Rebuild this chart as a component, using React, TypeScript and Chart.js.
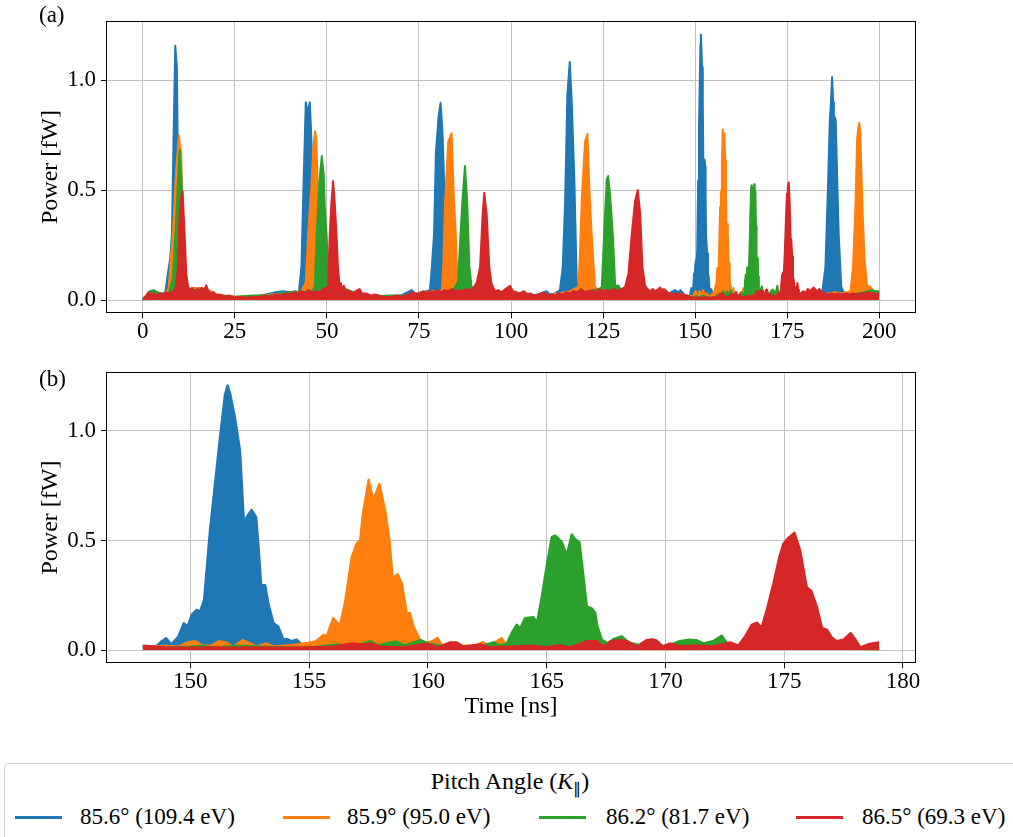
import React, { useEffect, useRef } from "react";
import { Chart, registerables } from "chart.js";

Chart.register(...registerables);

type Pt = [number, number];

const seriesLabels = ["85.6° (109.4 eV)", "85.9° (95.0 eV)", "86.2° (81.7 eV)", "86.5° (69.3 eV)"];
const seriesColors = ["#1f77b4", "#ff7f0e", "#2ca02c", "#d62728"];
const topTicksX = [0, 25, 50, 75, 100, 125, 150, 175, 200];
const bottomTicksX = [150, 155, 160, 165, 170, 175, 180];
const ticksY = [0, 0.5, 1.0];

// ---- Blue: 85.6° ----
const blueEarly: Pt[] = [
  [0, 0.005], [1, 0.02], [2, 0.04], [3, 0.035], [4, 0.03], [5, 0.03], [6.1, 0.03], [6.8, 0.12], [7.45, 0.19],
  [7.9, 0.3], [8.36, 0.75], [8.81, 1.157], [9.26, 1.056], [9.53, 0.6], [9.9, 0.3], [10.4, 0.12], [11, 0.06],
  [12, 0.04], [14, 0.045], [16, 0.05], [18, 0.04], [20, 0.025], [24, 0.015], [28, 0.012], [32, 0.02], [36, 0.035],
  [38, 0.04], [40, 0.035], [41.5, 0.04], [42.35, 0.03], [43.08, 0.15], [43.53, 0.45], [44.26, 0.9], [44.8, 0.85],
  [45.35, 0.9], [45.8, 0.73], [46.3, 0.4], [46.8, 0.15], [47.5, 0.05], [49, 0.03], [52, 0.03], [56, 0.03],
  [60, 0.02], [65, 0.015], [70, 0.02], [73, 0.045], [74, 0.03], [76, 0.035], [78, 0.045], [78.5, 0.15],
  [79.1, 0.3], [79.6, 0.67], [80.3, 0.83], [80.87, 0.897], [81.4, 0.76], [82.0, 0.45], [82.6, 0.2], [83.3, 0.06],
  [85, 0.03], [90, 0.025], [95, 0.02], [100, 0.02], [105, 0.015], [108, 0.03], [109.7, 0.04], [110.5, 0.025],
  [112, 0.03], [113.3, 0.045], [114.05, 0.15], [114.7, 0.45], [115.3, 0.93], [115.96, 1.083], [116.5, 0.9],
  [117.2, 0.55], [117.86, 0.08], [118.5, 0.04], [121, 0.03], [125, 0.03], [130, 0.02], [135, 0.02], [140, 0.02],
  [143, 0.03], [144.5, 0.045], [145.5, 0.035], [146, 0.045], [147, 0.025],
];
const blueZoom: Pt[] = [
  [148.0, 0.016], [148.3, 0.015], [148.6, 0.02], [148.8, 0.04], [148.98, 0.054], [149.2, 0.025], [149.5, 0.062],
  [149.73, 0.122], [149.88, 0.107], [150.06, 0.16], [150.27, 0.183], [150.41, 0.175], [150.58, 0.228],
  [150.83, 0.545], [151.04, 0.757], [151.25, 0.968], [151.46, 1.165], [151.57, 1.207], [151.67, 1.172],
  [151.88, 1.059], [152.09, 0.908], [152.27, 0.548], [152.37, 0.606], [152.58, 0.639], [152.77, 0.606],
  [152.86, 0.485], [152.98, 0.296], [153.15, 0.296], [153.28, 0.213], [153.5, 0.122], [153.7, 0.107],
  [153.92, 0.047], [154.08, 0.05], [154.27, 0.04], [154.48, 0.047], [154.69, 0.025], [155.0, 0.012],
  [157, 0.01], [158.2, 0.02], [158.4, 0.008], [160, 0.008], [165, 0.008], [170, 0.008], [175.3, 0.01],
  [175.45, 0.025], [175.6, 0.008], [179, 0.008],
];
const blueLate: Pt[] = [
  [179.5, 0.01], [182, 0.02], [184.5, 0.03], [185.4, 0.15], [186.1, 0.52], [186.6, 0.82], [186.9, 0.9],
  [187.2, 1.014], [187.5, 0.9], [187.7, 0.84], [188.2, 0.82], [188.6, 0.55], [189.0, 0.3], [189.7, 0.06],
  [190.5, 0.03], [193, 0.02], [196, 0.02], [200, 0.02],
];

// ---- Orange: 85.9° ----
const orangeEarly: Pt[] = [
  [0, 0.005], [1, 0.02], [2, 0.035], [3, 0.03], [4, 0.03], [5, 0.025], [6, 0.03], [7, 0.05], [7.45, 0.15],
  [8.17, 0.3], [9.08, 0.6], [9.8, 0.749], [10.1, 0.7], [10.44, 0.677], [10.71, 0.45], [11.1, 0.2], [11.6, 0.07],
  [12.5, 0.05], [14, 0.055], [15.5, 0.055], [17, 0.05], [18.5, 0.04], [20, 0.025], [25, 0.015], [30, 0.015],
  [35, 0.025], [38, 0.03], [41, 0.035], [43, 0.04], [44.26, 0.08], [44.9, 0.3], [45.8, 0.52], [46.25, 0.68],
  [46.8, 0.768], [47.16, 0.72], [47.6, 0.45], [48.1, 0.2], [48.6, 0.06], [50, 0.04], [53, 0.03], [57, 0.03],
  [62, 0.015], [67, 0.015], [72, 0.02], [76, 0.035], [79, 0.04], [81.2, 0.04], [81.6, 0.15], [82.05, 0.43],
  [82.95, 0.72], [83.86, 0.758], [84.5, 0.45], [85.0, 0.3], [85.5, 0.075], [86.5, 0.04], [90, 0.03], [95, 0.02],
  [100, 0.02], [105, 0.015], [110, 0.02], [113, 0.03], [116, 0.04], [118.3, 0.06], [118.7, 0.2], [119.2, 0.45],
  [120.1, 0.72], [120.76, 0.755], [121.3, 0.5], [121.9, 0.3], [122.8, 0.06], [124, 0.04], [128, 0.03],
  [132, 0.025], [137, 0.02], [142, 0.02], [146, 0.015], [147.5, 0.015],
];
const orangeZoom: Pt[] = [
  [148.0, 0.012], [149.0, 0.02], [149.5, 0.015], [149.9, 0.035], [150.2, 0.04], [150.5, 0.02], [150.9, 0.02],
  [151.2, 0.04], [151.5, 0.035], [151.8, 0.015], [152.2, 0.045], [152.5, 0.03], [152.8, 0.015], [153.2, 0.03],
  [153.5, 0.015], [154.0, 0.02], [154.5, 0.025], [154.98, 0.032], [155.3, 0.04], [155.6, 0.069], [155.74, 0.062],
  [156.02, 0.145], [156.3, 0.11], [156.51, 0.213], [156.8, 0.424], [157.0, 0.485], [157.15, 0.5], [157.28, 0.628],
  [157.51, 0.776], [157.7, 0.681], [157.96, 0.757], [158.2, 0.636], [158.38, 0.5], [158.52, 0.326],
  [158.72, 0.346], [158.9, 0.304], [159.11, 0.168], [159.25, 0.168], [159.39, 0.107], [159.6, 0.062],
  [159.74, 0.027], [160.0, 0.035], [160.2, 0.04], [160.4, 0.055], [160.6, 0.02], [161.0, 0.015], [161.5, 0.02],
  [162.0, 0.02], [162.3, 0.035], [162.6, 0.02], [163.1, 0.054], [163.3, 0.02], [164, 0.008], [170, 0.005],
  [175, 0.008], [179, 0.005],
];
const orangeLate: Pt[] = [
  [179.5, 0.008], [182, 0.015], [185, 0.02], [186, 0.03], [188, 0.035], [190, 0.03], [192.2, 0.04], [192.9, 0.15],
  [193.6, 0.45], [194.0, 0.73], [194.3, 0.78], [194.6, 0.806], [194.9, 0.75], [195.4, 0.45], [196.0, 0.19],
  [196.7, 0.065], [197.6, 0.06], [198.5, 0.04], [200, 0.035],
];

// ---- Green: 86.2° ----
const greenEarly: Pt[] = [
  [0, 0.005], [1, 0.02], [2, 0.04], [3, 0.045], [4, 0.035], [5, 0.03], [6, 0.02], [7, 0.03], [8.17, 0.1],
  [9.08, 0.375], [9.99, 0.682], [10.5, 0.55], [11.07, 0.3], [11.6, 0.1], [12.2, 0.05], [14, 0.045], [16, 0.05],
  [18, 0.035], [20, 0.02], [25, 0.015], [30, 0.02], [35, 0.02], [40, 0.035], [43, 0.035], [46, 0.04],
  [46.7, 0.06], [47.16, 0.27], [47.9, 0.53], [48.6, 0.655], [49.15, 0.57], [49.4, 0.43], [49.9, 0.3],
  [50.4, 0.12], [51, 0.05], [53, 0.04], [55, 0.05], [58, 0.03], [62, 0.015], [67, 0.02], [72, 0.02], [76, 0.025],
  [80, 0.03], [84, 0.04], [85.6, 0.08], [86.3, 0.3], [86.8, 0.45], [87.49, 0.61], [88.1, 0.45], [88.7, 0.15],
  [89.3, 0.06], [91, 0.04], [95, 0.03], [100, 0.02], [105, 0.015], [110, 0.015], [115, 0.02], [118, 0.03],
  [121, 0.04], [124, 0.05], [124.66, 0.06], [125.3, 0.3], [126.0, 0.55], [126.4, 0.564], [126.9, 0.48],
  [127.65, 0.3], [128.3, 0.065], [129.2, 0.065], [130, 0.04], [133, 0.035], [138, 0.03], [143, 0.025],
  [147.5, 0.008],
];
const greenZoom: Pt[] = [
  [148.0, 0.008], [149, 0.01], [150, 0.015], [150.5, 0.02], [151, 0.01], [152, 0.02], [153, 0.015], [154, 0.01],
  [155, 0.01], [156.2, 0.025], [156.6, 0.015], [157.3, 0.03], [157.6, 0.04], [157.9, 0.02], [158.4, 0.035],
  [158.7, 0.038], [159.0, 0.02], [159.7, 0.045], [160.0, 0.03], [160.5, 0.02], [161.5, 0.01], [162.2, 0.016],
  [162.76, 0.035], [163.04, 0.02], [163.32, 0.03], [163.53, 0.077], [163.74, 0.115], [163.9, 0.1],
  [164.09, 0.145], [164.44, 0.15], [164.6, 0.125], [164.8, 0.243], [165.0, 0.379], [165.22, 0.515],
  [165.36, 0.522], [165.64, 0.492], [165.85, 0.432], [166.06, 0.527], [166.2, 0.505], [166.38, 0.492],
  [166.55, 0.334], [166.69, 0.198], [166.9, 0.19], [167.04, 0.17], [167.14, 0.107], [167.32, 0.047],
  [167.6, 0.03], [167.81, 0.05], [168.16, 0.062], [168.45, 0.035], [169.0, 0.02], [169.78, 0.016],
  [170.3, 0.028], [170.6, 0.04], [171.0, 0.047], [171.3, 0.045], [171.6, 0.03], [172.0, 0.04], [172.37, 0.065],
  [172.6, 0.03], [173.0, 0.015], [174, 0.008], [176, 0.008], [179, 0.005],
];
const greenLate: Pt[] = [
  [179.5, 0.008], [182, 0.01], [186, 0.015], [190, 0.02], [193, 0.025], [196, 0.035], [197, 0.04], [198, 0.045],
  [199, 0.04], [200, 0.04],
];

// ---- Red: 86.5° ----
const redEarly: Pt[] = [
  [0, 0.0], [0.5, 0.01], [1, 0.02], [1.5, 0.035], [2.2, 0.025], [3, 0.03], [3.8, 0.02], [4.5, 0.03], [5.3, 0.025],
  [6.1, 0.035], [7, 0.03], [8, 0.035], [9.08, 0.06], [9.53, 0.15], [9.99, 0.39], [10.4, 0.47], [10.8, 0.496],
  [11.35, 0.3], [11.8, 0.12], [12.25, 0.065], [12.8, 0.04], [13.4, 0.055], [14, 0.035], [14.7, 0.05],
  [15.3, 0.04], [16, 0.055], [16.7, 0.045], [17.2, 0.067], [17.8, 0.04], [18.5, 0.03], [19.3, 0.035], [20, 0.02],
  [21, 0.025], [22, 0.015], [23.5, 0.02], [25, 0.012], [26.5, 0.015], [28, 0.01], [30, 0.015], [31.5, 0.012],
  [33, 0.02], [34.5, 0.015], [36, 0.025], [37.5, 0.02], [39, 0.03], [40, 0.025], [41, 0.035], [42, 0.03],
  [43, 0.04], [44, 0.03], [45, 0.045], [46, 0.035], [47, 0.04], [48, 0.035], [49, 0.05], [50.33, 0.06],
  [50.78, 0.3], [51.24, 0.45], [51.69, 0.541], [52.1, 0.45], [52.6, 0.3], [53.0, 0.15], [53.4, 0.075],
  [53.8, 0.076], [54.2, 0.045], [54.6, 0.065], [55, 0.04], [55.6, 0.045], [56.2, 0.04], [57, 0.03], [57.8, 0.04],
  [58.9, 0.05], [59.5, 0.03], [60.7, 0.03], [62, 0.02], [63, 0.025], [64.4, 0.02], [66, 0.012], [67.5, 0.015],
  [68.9, 0.02], [70, 0.015], [71.5, 0.02], [73.4, 0.035], [74.5, 0.025], [76.2, 0.04], [77, 0.03], [78, 0.04],
  [79, 0.035], [80, 0.045], [81, 0.035], [82, 0.045], [83, 0.04], [84, 0.05], [85, 0.04], [86, 0.045],
  [87, 0.04], [88, 0.05], [89, 0.045], [90, 0.06], [90.7, 0.08], [91.6, 0.15], [92.3, 0.39], [92.74, 0.488],
  [93.4, 0.39], [94.1, 0.15], [94.7, 0.075], [95.6, 0.04], [96.5, 0.045], [97.5, 0.035], [98.5, 0.05],
  [99.7, 0.065], [100.5, 0.04], [101.5, 0.035], [102.5, 0.03], [103.5, 0.04], [104.5, 0.025], [105.2, 0.03],
  [106.5, 0.02], [107.5, 0.025], [108.8, 0.035], [110, 0.02], [111, 0.025], [112, 0.02], [113, 0.03],
  [114, 0.025], [115, 0.035], [116, 0.03], [117, 0.04], [118, 0.035], [119, 0.05], [120, 0.035], [121, 0.04],
  [122, 0.045], [123, 0.035], [124, 0.05], [125, 0.04], [126, 0.045], [127, 0.04], [128, 0.05], [129, 0.04],
  [130, 0.05], [131, 0.06], [131.9, 0.12], [132.8, 0.3], [133.7, 0.45], [134.45, 0.5], [135.1, 0.39],
  [135.7, 0.15], [136.4, 0.065], [137.1, 0.05], [137.8, 0.04], [138.5, 0.05], [139.2, 0.04], [140, 0.05],
  [140.5, 0.057], [141, 0.045], [141.5, 0.05], [142.5, 0.035], [143.5, 0.03], [144.5, 0.025], [145.5, 0.03],
  [146.5, 0.025], [147.5, 0.02],
];
const redZoom: Pt[] = [
  [148.0, 0.02], [148.5, 0.015], [149, 0.012], [150, 0.01], [151, 0.012], [152, 0.01], [153, 0.012], [154, 0.01],
  [155, 0.012], [156, 0.015], [156.8, 0.03], [157.3, 0.025], [157.6, 0.03], [158, 0.015], [159, 0.012],
  [159.7, 0.025], [160.0, 0.028], [160.4, 0.012], [160.95, 0.035], [161.2, 0.035], [161.5, 0.015], [162.2, 0.025],
  [162.6, 0.012], [163.5, 0.015], [164.4, 0.02], [165, 0.012], [165.5, 0.022], [166.0, 0.012], [166.7, 0.04],
  [167.1, 0.04], [167.4, 0.015], [167.7, 0.04], [168.1, 0.045], [168.4, 0.04], [168.8, 0.015], [169.2, 0.045],
  [169.4, 0.048], [169.6, 0.045], [169.9, 0.015], [170.2, 0.03], [170.6, 0.016], [171.2, 0.02], [172.0, 0.016],
  [172.72, 0.035], [173.07, 0.02], [173.36, 0.062], [173.64, 0.115], [173.85, 0.125], [174.05, 0.1],
  [174.27, 0.183], [174.55, 0.304], [174.8, 0.424], [174.97, 0.485], [175.18, 0.512], [175.43, 0.535],
  [175.67, 0.455], [175.95, 0.286], [176.14, 0.27], [176.37, 0.198], [176.59, 0.1], [176.8, 0.092],
  [177.0, 0.058], [177.2, 0.04], [177.5, 0.047], [177.8, 0.077], [178.0, 0.047], [178.2, 0.012], [178.6, 0.028],
  [179.0, 0.035],
];
const redLate: Pt[] = [
  [179.5, 0.04], [180, 0.03], [180.6, 0.05], [181.2, 0.04], [182.2, 0.057], [183, 0.04], [183.8, 0.05],
  [184.5, 0.035], [185.3, 0.03], [186, 0.025], [187, 0.03], [188, 0.025], [189, 0.03], [190, 0.025], [191, 0.03],
  [192, 0.025], [193, 0.03], [194, 0.025], [195, 0.03], [196, 0.03], [197, 0.035], [198, 0.03], [199, 0.03],
  [200, 0.03],
];

const fullSeries: Pt[][] = [
  [...blueEarly, ...blueZoom, ...blueLate],
  [...orangeEarly, ...orangeZoom, ...orangeLate],
  [...greenEarly, ...greenZoom, ...greenLate],
  [...redEarly, ...redZoom, ...redLate],
];
const zoomSeries: Pt[][] = [blueZoom, orangeZoom, greenZoom, redZoom];

const SERIF = "'Liberation Serif', 'Times New Roman', Times, serif";
const TICK_FONT = { family: SERIF, size: 23 };
const LABEL_FONT = { family: SERIF, size: 24 };
const GRID_COLOR = "#c2c2c2";

const framePlugin = {
  id: "frameBox",
  afterDatasetsDraw(chart: any) {
    const { ctx, chartArea } = chart;
    const l = Math.round(chartArea.left) + 0.5;
    const t = Math.round(chartArea.top) + 0.5;
    const r = Math.round(chartArea.right) - 0.5;
    const b = Math.round(chartArea.bottom) - 0.5;
    ctx.save();
    ctx.strokeStyle = "#000";
    ctx.lineWidth = 1;
    ctx.strokeRect(l, t, r - l, b - t);
    ctx.restore();
  },
};

function panelConfig(opts: {
  series: Pt[][];
  xMin: number;
  xMax: number;
  xTicks: number[];
  padTop: number;
  xHeight: number;
  xTitle?: string;
  lineWidth: number;
}): any {
  return {
    type: "line",
    data: {
      datasets: opts.series.map((pts, i) => ({
        label: seriesLabels[i],
        data: pts.map(([x, y]) => ({ x, y })),
        borderColor: seriesColors[i],
        backgroundColor: seriesColors[i],
        borderWidth: opts.lineWidth,
        pointRadius: 0,
        pointHoverRadius: 0,
        fill: "origin",
        tension: 0,
        borderJoinStyle: "round",
        order: 4 - i,
      })),
    },
    options: {
      animation: false,
      responsive: false,
      maintainAspectRatio: false,
      devicePixelRatio: 1,
      events: [],
      layout: { padding: { top: opts.padTop, right: 97, bottom: 0, left: 0 } },
      plugins: { legend: { display: false }, tooltip: { enabled: false } },
      scales: {
        x: {
          type: "linear",
          min: opts.xMin,
          max: opts.xMax,
          afterBuildTicks: (s: any) => {
            s.ticks = opts.xTicks.map((v) => ({ value: v }));
          },
          afterFit: (s: any) => {
            s.height = opts.xHeight;
          },
          grid: { color: GRID_COLOR, lineWidth: 1, drawTicks: true, tickLength: 5, tickColor: "#000", tickWidth: 1 },
          border: { display: false },
          ticks: {
            autoSkip: false,
            maxRotation: 0,
            minRotation: 0,
            padding: 0,
            color: "#000",
            font: TICK_FONT,
            callback: (v: any) => String(v),
          },
          title: opts.xTitle
            ? { display: true, text: opts.xTitle, color: "#000", font: LABEL_FONT, padding: { top: 0, bottom: 3.6 } }
            : { display: false },
        },
        y: {
          type: "linear",
          min: -0.0605,
          max: 1.2705,
          afterBuildTicks: (s: any) => {
            s.ticks = ticksY.map((v) => ({ value: v }));
          },
          afterFit: (s: any) => {
            s.width = 106;
          },
          grid: { color: GRID_COLOR, lineWidth: 1, drawTicks: true, tickLength: 5, tickColor: "#000", tickWidth: 1 },
          border: { display: false },
          ticks: {
            padding: 5,
            color: "#000",
            font: TICK_FONT,
            callback: (v: any) => Number(v).toFixed(1),
          },
          title: { display: true, text: "Power [fW]", color: "#000", font: LABEL_FONT, padding: { top: 36.6, bottom: 0 } },
        },
      },
    },
    plugins: [framePlugin],
  };
}

export default function App() {
  const topRef = useRef<HTMLCanvasElement | null>(null);
  const botRef = useRef<HTMLCanvasElement | null>(null);

  useEffect(() => {
    const charts: Chart[] = [];
    if (topRef.current) {
      charts.push(
        new Chart(
          topRef.current,
          panelConfig({
            series: fullSeries,
            xMin: -10,
            xMax: 210,
            xTicks: topTicksX,
            padTop: 20.7,
            xHeight: 26.7,
            lineWidth: 2,
          })
        )
      );
    }
    if (botRef.current) {
      charts.push(
        new Chart(
          botRef.current,
          panelConfig({
            series: zoomSeries,
            xMin: 146.45,
            xMax: 180.55,
            xTicks: bottomTicksX,
            padTop: 31.7,
            xHeight: 61.7,
            xTitle: "Time [ns]",
            lineWidth: 2.5,
          })
        )
      );
    }
    return () => charts.forEach((c) => c.destroy());
  }, []);

  const legendLines = [15, 283, 539, 796];
  const legendTexts = [80, 347, 606, 862];

  return (
    <div
      style={{
        position: "absolute",
        left: 0,
        top: 0,
        width: 1013,
        height: 837,
        overflow: "hidden",
        background: "#fff",
        fontFamily: SERIF,
        color: "#000",
      }}
    >
      <canvas
        ref={topRef}
        width={1013}
        height={340}
        style={{ position: "absolute", left: 0, top: 0, width: 1013, height: 340 }}
      />
      <canvas
        ref={botRef}
        width={1013}
        height={385}
        style={{ position: "absolute", left: 0, top: 340, width: 1013, height: 385 }}
      />
      <div style={{ position: "absolute", left: 39, top: 3, fontSize: 23, lineHeight: "23px", whiteSpace: "nowrap" }}>(a)</div>
      <div style={{ position: "absolute", left: 39, top: 367, fontSize: 23, lineHeight: "23px", whiteSpace: "nowrap" }}>(b)</div>

      <div
        style={{
          position: "absolute",
          left: 4,
          top: 763,
          width: 1030,
          height: 110,
          border: "1px solid #d4d4d4",
          borderRadius: 4,
          background: "#fff",
          boxSizing: "border-box",
        }}
      />
      <div
        style={{
          position: "absolute",
          left: 0,
          width: 1020,
          top: 767,
          textAlign: "center",
          fontSize: 24,
          lineHeight: "28px",
          whiteSpace: "nowrap",
        }}
      >
        Pitch Angle (<i>K</i>
        <sub style={{ fontSize: 16, verticalAlign: "-5px" }}>∥</sub>)
      </div>
      {seriesLabels.map((lab, i) => (
        <React.Fragment key={lab}>
          <div
            style={{
              position: "absolute",
              left: legendLines[i],
              top: 816,
              width: 47,
              height: 3,
              background: seriesColors[i],
            }}
          />
          <div
            style={{
              position: "absolute",
              left: legendTexts[i],
              top: 803,
              fontSize: 23,
              lineHeight: "28px",
              whiteSpace: "nowrap",
            }}
          >
            {lab}
          </div>
        </React.Fragment>
      ))}
    </div>
  );
}
